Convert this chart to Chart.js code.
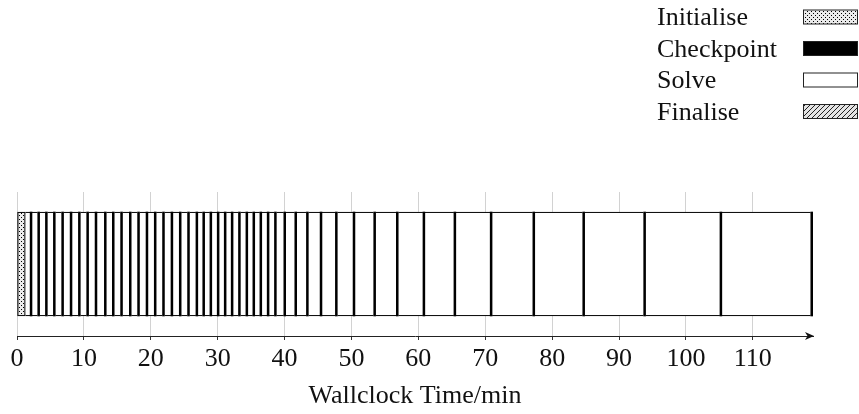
<!DOCTYPE html>
<html>
<head>
<meta charset="utf-8">
<script src="https://cdn.jsdelivr.net/npm/chart.js@4.4.0/dist/chart.umd.min.js"></script>
<style>
  body { margin: 0; background: #fff; }
  #wrap { width: 859px; height: 414px; }
</style>
</head>
<body>
<div id="wrap"><canvas id="myChart" width="859" height="414"></canvas></div>
<script>
// phases of the run, in legend order
const phases = ['Initialise', 'Checkpoint', 'Solve', 'Finalise'];
const runLabels = ['run'];

// minutes
const initialiseSpan = [0, 1.24];
const checkpointAt = [2.24, 3.38, 4.53, 5.72, 6.96, 8.22, 9.46, 10.70, 11.95, 13.34,
    14.53, 15.77, 17.07, 18.31, 19.57, 20.80, 22.04, 23.30, 24.54, 25.78,
    27.03, 28.05, 29.12, 30.21, 31.26, 32.30, 33.39, 34.50, 35.54, 36.59,
    37.68, 38.77, 40.17, 41.81, 43.55, 45.59, 47.88, 50.52, 53.61, 56.99,
    60.97, 65.60, 71.02, 77.40, 84.86, 93.97, 105.37, 118.95];
const checkpointLength = 0.28;
const finaliseSpan = [];

const xTicks = { min: 0, max: 119, step: 10 };
const axisTitle = 'Wallclock Time/min';

const serif = "'Liberation Serif', 'DejaVu Serif', serif";

// build the floating bar pieces
let solveBars = [];
let checkpointBars = [];
let prev = initialiseSpan[1];
for (let i = 0; i < checkpointAt.length; i++) {
    let t = checkpointAt[i];
    solveBars.push({ x: [prev, t - checkpointLength], y: runLabels[0] });
    checkpointBars.push({ x: [t - checkpointLength, t], y: runLabels[0] });
    prev = t;
}
let finaliseBars = [];
if (finaliseSpan.length == 2) finaliseBars.push({ x: finaliseSpan, y: runLabels[0] });

function dots() {
    let c = document.createElement('canvas');
    c.width = 4; c.height = 4;
    let g = c.getContext('2d');
    g.fillStyle = '#ebebeb';
    g.fillRect(0, 0, 4, 4);
    g.fillStyle = '#000';
    g.fillRect(1, 1, 1, 1);
    g.fillRect(3, 3, 1, 1);
    return g.createPattern(c, 'repeat');
}

function hatch() {
    let c = document.createElement('canvas');
    c.width = 5; c.height = 5;
    let g = c.getContext('2d');
    g.fillStyle = '#e4e4e4';
    g.fillRect(0, 0, 5, 5);
    g.strokeStyle = '#222';
    g.lineWidth = 1;
    g.beginPath();
    g.moveTo(-1, 6); g.lineTo(6, -1);
    g.stroke();
    return g.createPattern(c, 'repeat');
}

const fills = [dots(), '#000', '#fff', hatch()];

// legend on the top right and the arrow at the end of the time axis
const extras = {
    id: 'extras',
    afterDraw(chart) {
        const ctx = chart.ctx;
        ctx.save();
        ctx.font = '26px ' + serif;
        ctx.textBaseline = 'alphabetic';
        const baselines = [25, 57, 88, 120];
        const boxTops = [10, 41.5, 73, 104.5];
        for (let i = 0; i < phases.length; i++) {
            ctx.fillStyle = '#111';
            ctx.fillText(phases[i], 657, baselines[i]);
            ctx.fillStyle = fills[i];
            ctx.fillRect(803.5, boxTops[i], 54, 14);
            ctx.strokeStyle = '#222';
            ctx.lineWidth = 1;
            ctx.strokeRect(803.5, boxTops[i], 54, 14);
        }

        const xs = chart.scales.x;
        const y = xs.top;
        const tip = xs.right + 1;
        ctx.fillStyle = '#111';
        ctx.beginPath();
        ctx.moveTo(tip, y);
        ctx.lineTo(tip - 9, y - 4);
        ctx.lineTo(tip - 6.5, y);
        ctx.lineTo(tip - 9, y + 4);
        ctx.closePath();
        ctx.fill();
        ctx.restore();
    }
};

var ctx = document.getElementById('myChart').getContext('2d');
var chart = new Chart(ctx, {
    type: 'bar',
    data: {
        labels: runLabels,
        datasets: [{
            label: phases[1],
            data: checkpointBars,
            backgroundColor: fills[1],
            borderWidth: 0
        },
        {
            label: phases[0],
            data: [{ x: initialiseSpan, y: runLabels[0] }],
            backgroundColor: fills[0],
            borderColor: '#111',
            borderWidth: 1.3,
            borderSkipped: false
        },
        {
            label: phases[2],
            data: solveBars,
            backgroundColor: fills[2],
            borderColor: '#111',
            borderWidth: { top: 1.3, bottom: 1.3, left: 0, right: 0 },
            borderSkipped: false
        },
        {
            label: phases[3],
            data: finaliseBars,
            backgroundColor: fills[3],
            borderColor: '#111',
            borderWidth: 1,
            borderSkipped: false
        }]
    },
    options: {
        indexAxis: 'y',
        responsive: false,
        animation: false,
        devicePixelRatio: 1,
        grouped: false,
        barThickness: 104,
        layout: { padding: { top: 192, right: 46, left: 17, bottom: 0 } },
        scales: {
            x: {
                type: 'linear',
                position: 'bottom',
                min: xTicks.min,
                max: xTicks.max,
                grid: { color: '#d2d2d2', lineWidth: 1, tickLength: 4, tickColor: '#333' },
                border: { display: true, color: '#222', width: 1 },
                ticks: {
                    stepSize: xTicks.step,
                    includeBounds: false,
                    maxRotation: 0,
                    color: '#111',
                    padding: 4,
                    font: { family: serif, size: 26 }
                },
                title: {
                    display: true,
                    text: axisTitle,
                    color: '#111',
                    font: { family: serif, size: 26 },
                    padding: { top: 0, bottom: 2 }
                },
                afterFit(scale) { scale.height = 78; }
            },
            y: { type: 'category', labels: runLabels, display: false }
        },
        plugins: {
            legend: { display: false },
            tooltip: { enabled: false }
        }
    },
    plugins: [extras]
});
</script>
</body>
</html>
